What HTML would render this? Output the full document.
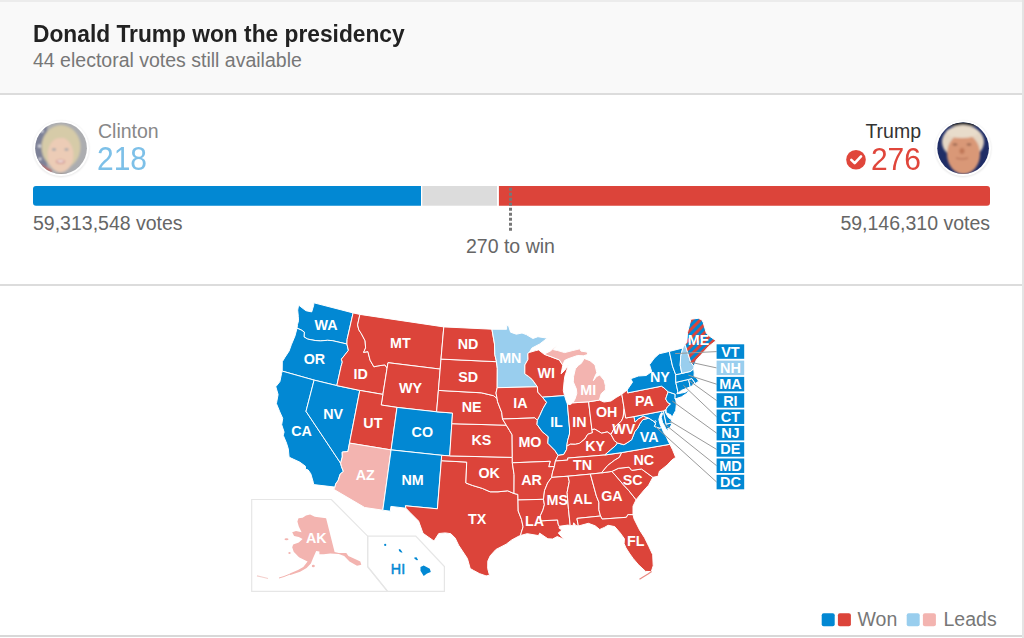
<!DOCTYPE html>
<html><head><meta charset="utf-8">
<style>
html,body{margin:0;padding:0;background:#fff;width:1024px;height:638px;overflow:hidden;font-family:"Liberation Sans",sans-serif;}
.t{position:absolute;white-space:nowrap;line-height:1;}
</style></head><body>
<div style="position:absolute;left:0;top:0;width:1022px;height:93px;background:#f9f9f9"></div>
<div style="position:absolute;left:0;top:0;width:1022px;height:2px;background:#ececec"></div>
<div style="position:absolute;left:0;top:93px;width:1022px;height:2px;background:#dcdcdc"></div>
<div style="position:absolute;left:1022px;top:0;width:2px;height:638px;background:#e4e4e4"></div>
<div style="position:absolute;left:0;top:284px;width:1022px;height:2px;background:#dcdcdc"></div>
<div style="position:absolute;left:0;top:635px;width:1022px;height:2px;background:#d8d8d8"></div>
<div class="t" style="left:33px;top:23.1px;font-size:22.75px;font-weight:bold;color:#222;transform:scaleY(1.09);transform-origin:0 19.26px">Donald Trump won the presidency</div>
<div class="t" style="left:33px;top:50.7px;font-size:19.5px;color:#777">44 electoral votes still available</div>

<!-- candidates -->
<div class="t" style="left:98px;top:122px;font-size:19.5px;color:#888">Clinton</div>
<div class="t" style="left:97px;top:144.6px;font-size:30px;color:#7dc0e8;transform:scaleY(1.08);transform-origin:0 25.4px">218</div>
<div class="t" style="right:103px;top:122px;font-size:19.5px;color:#333;text-align:right">Trump</div>
<div class="t" style="right:103px;top:144.9px;font-size:30px;color:#e0463b;text-align:right;transform:scaleY(1.06);transform-origin:0 25.4px">276</div>
<div class="t" style="left:33px;top:213.5px;font-size:19.5px;color:#666">59,313,548 votes</div>
<div class="t" style="right:34px;top:213.5px;font-size:19.5px;color:#666;text-align:right">59,146,310 votes</div>
<div class="t" style="left:466px;top:237.3px;font-size:19.5px;color:#666">270 to win</div>

<svg style="position:absolute;left:0;top:0" width="1024" height="638" viewBox="0 0 1024 638">
<defs>
<pattern id="stripes" patternUnits="userSpaceOnUse" width="6" height="6" patternTransform="rotate(45)">
<rect width="6" height="6" fill="#0288d3"/><rect width="2.9" height="6" fill="#dc443a"/>
</pattern>
<clipPath id="c1"><circle cx="61.1" cy="148.2" r="25.8"/></clipPath>
<clipPath id="c2"><circle cx="963.1" cy="148.2" r="25.8"/></clipPath>
<filter id="bl"><feGaussianBlur stdDeviation="0.9"/></filter>
<filter id="sh" x="-20%" y="-20%" width="140%" height="140%"><feGaussianBlur stdDeviation="1"/></filter>
</defs>
<!-- bar -->
<path d="M36,186H421V205.7H36A3,3 0 0 1 33,202.7V189A3,3 0 0 1 36,186Z" fill="#0288d3"/>
<rect x="422.3" y="186" width="74.7" height="19.7" fill="#dcdcdc"/>
<path d="M498.9,186H987A3,3 0 0 1 990,189V202.7A3,3 0 0 1 987,205.7H498.9Z" fill="#dc443a"/>
<line x1="510.5" y1="187.8" x2="510.5" y2="231" stroke="#777" stroke-width="3" stroke-dasharray="3 2"/>
<!-- avatars -->
<circle cx="61.1" cy="148.9" r="28" fill="#000" opacity="0.10" filter="url(#sh)"/>
<circle cx="61.1" cy="148.2" r="27.8" fill="#fff"/>
<g clip-path="url(#c1)">
<rect x="30" y="118" width="62" height="62" fill="#acadb0"/>
<g filter="url(#bl)">
<path d="M30,118H47V180H30Z" fill="#7d8197"/>
<path d="M38,163L52,170L50,180L36,180Z" fill="#b56d6d"/>
<circle cx="42" cy="131" r="1.5" fill="#e8e8ee"/><circle cx="39.5" cy="146" r="1.5" fill="#e8e8ee"/><circle cx="40" cy="159" r="1.3" fill="#e8e8ee"/>
<ellipse cx="61" cy="147" rx="19.5" ry="22" fill="#d6cba8"/>
<ellipse cx="60.5" cy="155" rx="13" ry="17.5" fill="#ecccb6"/>
<path d="M47,143Q50,132 61,133Q72,133 75,143Q68,137 61,138Q53,138 47,143Z" fill="#d6cba8"/>
<ellipse cx="54" cy="149.5" rx="2" ry="1" fill="#8c9aa6"/><ellipse cx="66.5" cy="149.5" rx="2" ry="1" fill="#8c9aa6"/>
<ellipse cx="60.5" cy="161.5" rx="4.5" ry="2" fill="#c98080"/><ellipse cx="60.5" cy="161.3" rx="3.5" ry="1.1" fill="#f5eeea"/>
<path d="M46,174L75,174L78,180L43,180Z" fill="#4a4a52"/>
</g>
</g>
<circle cx="963.1" cy="148.9" r="28" fill="#000" opacity="0.10" filter="url(#sh)"/>
<circle cx="963.1" cy="148.2" r="27.8" fill="#fff"/>
<g clip-path="url(#c2)">
<rect x="930" y="118" width="66" height="62" fill="#1f2d66"/>
<g filter="url(#bl)">
<rect x="930" y="118" width="66" height="8" fill="#111522"/>
<ellipse cx="963" cy="142" rx="21" ry="17" fill="#e4d6c4"/>
<ellipse cx="963.5" cy="154" rx="16.5" ry="20" fill="#d99877"/>
<ellipse cx="962" cy="132.5" rx="16" ry="5.5" fill="#e8dccb"/>
<ellipse cx="955" cy="144.5" rx="2.5" ry="1" fill="#8a5a48"/><ellipse cx="969" cy="144.5" rx="2.5" ry="1" fill="#8a5a48"/>
<ellipse cx="962" cy="151" rx="2.5" ry="3" fill="#c07858"/>
<path d="M956,158Q962,160 968,158" stroke="#b06a52" stroke-width="1.2" fill="none"/>
</g>
</g>
<!-- check -->
<circle cx="856" cy="159.8" r="9.8" fill="#e0463b"/>
<path d="M851.3,159.8L854.7,163.2L861,156.4" fill="none" stroke="#fff" stroke-width="2.6" stroke-linecap="round" stroke-linejoin="round"/>

<!-- insets -->
<g fill="none" stroke="#e6e6e6" stroke-width="1.2">
<path d="M251.7,499.5H331.4L367.7,536.2V566.7L387.6,591.3H251.7Z"/>
<path d="M367.7,536.2H415.8L444.4,566.5V591.4H387.6L367.7,566.7Z"/>
</g>
<path d="M310.1,514.4L314.8,516.8L326.1,518.2L334.6,552.0L338.8,552.9L346.3,552.9L348.4,556.1L355,559L360.3,561.5L361.3,564.7L357,565.8L349.5,561.5L344.2,556.1L338.8,554.0L330.2,553.6L323.7,554.2L319.4,554.2L319.4,551.5L316.2,551.0L315.1,553.5L313,558.3L310.9,563.6L306.6,567.9L300.1,571.7L290.4,574.9L288.3,574.4L290.4,573.3L298,570L303.3,566.9L307.6,561.5L305.5,560.4L299,557.2L293.7,551.8L292.2,547.3L293.2,544.5L298.8,542.6L302.6,538.9L298.8,537L294.1,536L292.2,532.3L296,531L301.6,532.3L298.8,526.6L297.4,521.5L298.5,518.3L302.6,517.7L306,515.5Z" fill="#f3b4b0"/>
<path d="M289,574.5L284,576.5L279,578" stroke="#f3b4b0" stroke-width="1" fill="none"/>
<path d="M257,575.8L262,577L268,578.5" stroke="#f4d0cd" stroke-width="1.2" fill="none"/>
<ellipse cx="286.5" cy="539.2" rx="2" ry="1" fill="#f3b4b0"/>
<ellipse cx="289.5" cy="553" rx="1.2" ry="1" fill="#f3b4b0"/>
<ellipse cx="313.3" cy="566" rx="1.5" ry="1.2" fill="#f3b4b0"/>
<path d="M398.8,549.1L400.5,549.5L402.6,552.4L401,552.6L399,551ZM414.3,557.6L416.5,557.2L418.1,559.9L416.8,560.3L414.5,558.8ZM420.5,567L423.7,565.5L429.8,568.8L430.8,572.1L427,573.5L423.7,575.9L420.5,570.7Z" fill="#0288d3"/>
<circle cx="385.2" cy="544.9" r="1.1" fill="#0288d3"/>
<g stroke="#fff" stroke-width="1" stroke-linejoin="round">
<path d="M297.0,328.2L297.5,324.4L298.5,320.8L298.3,316.4L297.7,310.1L298.6,305.1L305.9,310.7L311.7,311.9L313.7,305.2L313.9,302.8L353.1,312.9L347.1,339.4L346.9,344.0L332.1,340.6L327.4,340.3L320.4,340.9L315.1,340.5L307.7,339.1L304.0,336.9L304.3,332.0L301.1,329.9L297.0,328.2Z" fill="#0288d3"/>
<path d="M297.0,328.2L301.1,329.9L304.3,332.0L304.0,336.9L307.7,339.1L315.1,340.5L320.4,340.9L327.4,340.3L332.1,340.6L346.9,344.0L348.4,350.3L345.1,354.6L341.4,359.2L342.3,362.1L341.0,366.5L336.8,385.6L314.1,380.1L282.2,371.1L282.3,361.7L284.9,357.4L289.1,351.0L291.3,344.8L295.0,335.9L297.0,328.2Z" fill="#0288d3"/>
<path d="M282.2,371.1L314.1,380.1L306.0,411.3L340.6,463.2L341.5,466.7L343.4,471.4L340.2,474.1L338.2,480.3L335.6,484.1L335.0,487.1L313.7,484.6L313.4,482.7L310.8,473.8L308.1,469.9L305.6,469.3L305.4,466.2L299.7,462.1L289.9,457.6L289.0,456.3L288.3,448.9L286.5,443.1L283.2,435.2L284.1,432.1L281.7,424.7L282.7,418.3L279.8,411.9L276.4,403.6L278.1,394.5L275.8,386.7L279.9,381.6L281.5,373.7L282.2,371.1Z" fill="#0288d3"/>
<path d="M314.1,380.1L336.8,385.6L359.8,390.4L349.5,443.1L347.9,451.5L342.2,452.1L342.3,457.0L340.6,463.2L306.0,411.3L314.1,380.1Z" fill="#0288d3"/>
<path d="M353.1,312.9L359.9,314.4L357.6,324.9L358.8,329.8L361.3,333.6L365.1,340.8L365.6,347.9L363.6,352.4L367.9,351.6L370.1,360.2L373.9,366.8L377.9,365.9L384.9,364.9L387.1,368.0L382.9,394.4L359.8,390.4L336.8,385.6L341.0,366.5L342.3,362.1L341.4,359.2L345.1,354.6L348.4,350.3L346.9,344.0L347.1,339.4L353.1,312.9Z" fill="#dc443a"/>
<path d="M359.9,314.4L443.8,326.9L441.0,359.1L440.2,369.1L388.0,362.7L387.1,368.0L384.9,364.9L377.9,365.9L373.9,366.8L370.1,360.2L367.9,351.6L363.6,352.4L365.6,347.9L365.1,340.8L361.3,333.6L358.8,329.8L357.6,324.9L359.9,314.4Z" fill="#dc443a"/>
<path d="M387.1,368.0L388.0,362.7L440.2,369.1L438.4,390.4L436.6,411.8L397.0,407.4L381.2,405.0L382.9,394.4L387.1,368.0Z" fill="#dc443a"/>
<path d="M359.8,390.4L382.9,394.4L381.2,405.0L397.0,407.4L391.1,449.9L349.5,443.1L359.8,390.4Z" fill="#dc443a"/>
<path d="M397.0,407.4L436.6,411.8L452.5,413.0L451.8,423.7L449.7,455.9L441.7,455.3L391.1,449.9L397.0,407.4Z" fill="#0288d3"/>
<path d="M349.5,443.1L391.1,449.9L382.8,510.2L364.7,507.5L333.7,489.3L335.0,487.1L335.6,484.1L338.2,480.3L340.2,474.1L343.4,471.4L341.5,466.7L340.6,463.2L342.3,457.0L342.2,452.1L347.9,451.5L349.5,443.1Z" fill="#f3b4b0"/>
<path d="M391.1,449.9L441.7,455.3L441.3,460.7L437.4,508.8L405.4,505.8L405.9,508.2L390.9,506.4L390.3,511.2L382.8,510.2L391.1,449.9Z" fill="#0288d3"/>
<path d="M441.3,460.7L466.7,462.1L465.9,483.0L472.7,485.5L482.3,488.4L490.1,491.8L498.0,491.8L507.7,490.8L514.0,493.5L517.9,494.4L518.0,500.0L518.2,511.0L521.5,519.4L523.1,526.9L521.4,532.2L520.5,535.5L519.1,536.0L511.8,539.9L506.2,544.2L495.9,549.5L490.2,555.8L487.8,561.1L487.7,568.5L489.5,575.3L486.1,575.9L479.4,573.6L473.7,570.5L470.2,568.5L467.4,558.5L458.6,545.2L455.2,538.1L450.8,533.7L445.3,532.9L438.8,533.5L434.0,541.0L428.3,537.0L423.0,533.3L418.6,521.1L410.3,512.8L405.9,508.2L405.4,505.8L437.4,508.8L441.3,460.7Z" fill="#dc443a"/>
<path d="M441.7,455.3L449.7,455.9L512.3,457.4L512.3,462.8L514.1,474.7L514.0,493.5L507.7,490.8L498.0,491.8L490.1,491.8L482.3,488.4L472.7,485.5L465.9,483.0L466.7,462.1L441.3,460.7L441.7,455.3Z" fill="#dc443a"/>
<path d="M451.8,423.7L506.3,425.2L509.6,430.6L512.1,434.8L512.3,457.4L449.7,455.9L451.8,423.7Z" fill="#dc443a"/>
<path d="M438.4,390.4L481.3,392.8L489.0,394.6L493.6,395.7L497.1,398.5L497.5,401.6L500.0,408.1L501.7,412.3L502.5,419.0L506.3,425.2L451.8,423.7L452.5,413.0L436.6,411.8L438.4,390.4Z" fill="#dc443a"/>
<path d="M441.0,359.1L496.5,361.7L497.3,368.5L497.2,387.7L496.0,393.0L497.1,398.5L493.6,395.7L489.0,394.6L481.3,392.8L438.4,390.4L440.2,369.1L441.0,359.1Z" fill="#dc443a"/>
<path d="M443.8,326.9L491.9,329.2L494.5,344.0L494.8,354.6L496.5,361.7L441.0,359.1L443.8,326.9Z" fill="#dc443a"/>
<path d="M491.9,329.2L506.6,329.3L506.6,325.3L508.7,326.1L510.6,332.2L516.3,334.2L522.0,333.0L526.3,334.6L532.9,338.5L537.9,336.7L547.3,338.2L539.7,344.0L531.9,348.1L529.2,352.5L527.8,353.5L528.0,359.4L524.9,364.9L524.8,373.9L528.7,376.5L532.2,379.5L537.4,386.8L497.2,387.7L497.3,368.5L496.5,361.7L494.8,354.6L494.5,344.0L491.9,329.2Z" fill="#99ceee"/>
<path d="M497.2,387.7L537.4,386.8L537.8,392.1L542.4,397.2L546.6,402.3L543.0,408.5L539.8,415.6L537.4,420.3L534.8,417.9L502.5,419.0L501.7,412.3L500.0,408.1L497.5,401.6L497.1,398.5L496.0,393.0L497.2,387.7Z" fill="#dc443a"/>
<path d="M502.5,419.0L534.8,417.9L537.4,420.3L537.0,424.4L542.2,431.6L548.3,436.7L547.8,443.2L554.8,450.3L558.1,455.4L555.4,461.0L554.4,466.5L548.7,466.8L550.2,461.3L512.3,462.8L512.3,457.4L512.1,434.8L509.6,430.6L506.3,425.2L502.5,419.0Z" fill="#dc443a"/>
<path d="M512.3,462.8L550.2,461.3L548.7,466.8L554.4,466.5L552.6,471.9L551.6,477.4L547.6,483.0L544.5,490.7L543.5,499.3L518.0,500.0L517.9,494.4L514.0,493.5L514.1,474.7L512.3,462.8Z" fill="#dc443a"/>
<path d="M518.0,500.0L543.5,499.3L544.4,504.7L542.9,510.1L540.4,515.6L540.4,520.9L557.6,519.9L558.2,524.2L559.3,526.3L559.2,528.2L562.0,530.1L558.3,532.9L563.9,539.5L557.3,536.5L552.6,539.0L547.9,538.8L539.7,533.2L538.5,535.6L527.2,533.7L520.5,535.5L521.4,532.2L523.1,526.9L521.5,519.4L518.2,511.0L518.0,500.0Z" fill="#dc443a"/>
<path d="M529.2,352.5L535.7,350.6L538.6,349.9L544.1,354.2L553.0,357.5L559.3,359.9L562.8,365.2L561.1,373.9L564.6,370.4L568.3,365.3L566.3,371.9L564.8,376.3L564.1,381.7L563.3,390.4L564.5,395.6L542.4,397.2L537.8,392.1L537.4,386.8L532.2,379.5L528.7,376.5L524.8,373.9L524.9,364.9L528.0,359.4L527.8,353.5L529.2,352.5Z" fill="#dc443a"/>
<path d="M542.4,397.2L564.5,395.6L566.7,402.5L567.4,404.0L569.6,429.1L569.5,434.0L567.6,440.7L566.8,446.1L566.6,449.4L563.7,454.5L558.1,455.4L554.8,450.3L547.8,443.2L548.3,436.7L542.2,431.6L537.0,424.4L537.4,420.3L539.8,415.6L543.0,408.5L546.6,402.3L542.4,397.2Z" fill="#0288d3"/>
<path d="M567.4,404.0L570.1,404.6L572.9,402.8L588.6,401.8L591.9,429.5L592.5,432.7L587.7,434.3L584.9,439.0L579.5,443.3L575.4,444.3L570.4,444.2L566.8,446.1L567.6,440.7L569.5,434.0L569.6,429.1L567.4,404.0Z" fill="#dc443a"/>
<path d="M588.6,401.8L599.3,400.1L604.0,402.0L611.0,401.0L616.1,397.5L621.8,394.2L624.1,408.3L623.2,417.0L621.4,421.1L616.7,425.1L614.2,428.2L611.0,434.4L607.3,431.9L601.6,433.2L594.9,429.2L591.9,429.5L588.6,401.8Z" fill="#dc443a"/>
<path d="M544.1,354.2L550.5,350.9L557.0,345.0L553.5,349.7L557.6,350.5L564.6,352.6L572.8,350.5L579.8,348.8L581.0,351.1L586.9,352.0L588.0,354.4L583.4,355.8L577.5,355.5L568.1,358.8L564.6,360.5L562.8,365.2L559.3,359.9L553.0,357.5L544.1,354.2Z" fill="#f3b4b0"/>
<path d="M572.9,402.8L575.0,399.0L576.8,393.4L576.4,389.1L573.3,381.9L573.6,376.5L575.4,368.8L578.4,365.3L580.6,364.0L582.5,361.6L584.0,358.4L590.0,360.7L595.0,364.9L596.8,372.7L595.0,376.2L593.3,380.7L596.6,376.5L599.8,375.0L604.1,380.3L605.4,385.5L605.4,389.9L601.2,393.7L599.3,400.1L588.6,401.8L572.9,402.8Z" fill="#f3b4b0"/>
<path d="M558.1,455.4L563.7,454.5L566.6,449.4L566.8,446.1L570.4,444.2L575.4,444.3L579.5,443.3L584.9,439.0L587.7,434.3L592.5,432.7L591.9,429.5L594.9,429.2L601.6,433.2L607.3,431.9L611.0,434.4L614.4,440.7L617.5,443.0L615.2,446.0L610.6,449.9L604.7,455.0L567.6,458.1L567.8,460.1L555.4,461.0L558.1,455.4Z" fill="#dc443a"/>
<path d="M555.4,461.0L567.8,460.1L567.6,458.1L604.7,455.0L621.7,452.6L619.4,457.3L614.6,460.2L607.6,465.5L601.4,472.9L590.4,474.1L568.0,476.2L551.6,477.4L552.6,471.9L554.4,466.5L555.4,461.0Z" fill="#dc443a"/>
<path d="M551.6,477.4L568.0,476.2L569.3,481.5L567.1,492.4L568.5,509.5L570.2,525.4L567.7,525.1L559.3,526.3L558.2,524.2L557.6,519.9L540.4,520.9L540.4,515.6L542.9,510.1L544.4,504.7L543.5,499.3L544.5,490.7L547.6,483.0L551.6,477.4Z" fill="#dc443a"/>
<path d="M568.0,476.2L590.4,474.1L596.4,496.1L598.9,502.2L598.9,509.8L600.5,516.0L577.0,518.4L577.0,519.0L578.4,526.0L575.8,525.5L573.7,522.8L573.0,525.8L570.2,525.4L568.5,509.5L567.1,492.4L569.3,481.5L568.0,476.2Z" fill="#dc443a"/>
<path d="M590.4,474.1L601.4,472.9L611.9,471.4L617.0,477.2L623.5,484.9L628.8,490.6L636.1,499.8L633.0,506.2L633.0,514.7L627.9,514.6L626.4,517.3L602.1,519.1L600.5,516.0L598.9,509.8L598.9,502.2L596.4,496.1L590.4,474.1Z" fill="#dc443a"/>
<path d="M578.4,526.0L588.4,523.3L595.1,525.8L599.7,529.5L604.4,527.4L608.1,525.3L614.7,526.6L620.2,532.9L624.4,538.8L624.1,543.6L626.0,548.0L629.9,554.0L633.3,558.7L638.5,564.8L645.6,571.4L651.3,571.6L653.2,565.8L652.7,554.7L649.0,546.8L644.6,537.8L639.6,530.0L634.1,519.0L633.0,514.7L627.9,514.6L626.4,517.3L602.1,519.1L600.5,516.0L577.0,518.4L577.0,519.0L578.4,526.0Z" fill="#dc443a"/>
<path d="M611.9,471.4L618.4,468.3L629.1,467.2L631.8,470.4L641.5,469.0L652.9,477.3L648.6,485.2L643.3,491.0L636.1,499.8L628.8,490.6L623.5,484.9L617.0,477.2L611.9,471.4Z" fill="#dc443a"/>
<path d="M601.4,472.9L607.6,465.5L614.6,460.2L619.4,457.3L621.7,452.6L669.9,444.3L672.6,449.8L675.7,457.4L672.1,459.8L667.0,465.2L659.4,471.2L658.1,476.3L652.9,477.3L641.5,469.0L631.8,470.4L629.1,467.2L618.4,468.3L611.9,471.4L601.4,472.9Z" fill="#dc443a"/>
<path d="M604.7,455.0L610.6,449.9L615.2,446.0L617.5,443.0L623.9,444.7L627.0,442.9L631.6,439.8L634.9,431.4L637.5,428.4L640.0,423.5L643.0,419.5L648.9,418.2L650.7,419.4L653.8,421.3L655.7,423.8L654.4,426.4L657.6,427.6L660.1,428.2L661.3,427.0L663.6,432.3L666.4,437.1L668.1,440.9L669.9,444.3L621.7,452.6L604.7,455.0Z" fill="#0288d3"/>
<path d="M670.1,427.6L666.1,429.5L667.7,430.5L670.1,427.6Z" fill="#0288d3"/>
<path d="M611.0,434.4L614.4,440.7L617.5,443.0L623.9,444.7L627.0,442.9L631.6,439.8L634.9,431.4L637.5,428.4L640.0,423.5L643.0,419.5L648.9,418.2L643.3,416.2L638.4,418.8L635.0,422.1L634.0,416.6L625.7,418.0L624.1,408.3L623.2,417.0L621.4,421.1L616.7,425.1L614.2,428.2L611.0,434.4Z" fill="#dc443a"/>
<path d="M634.0,416.6L663.4,410.9L666.2,424.1L672.2,422.9L670.1,427.6L666.1,429.5L664.5,425.7L662.6,422.6L661.3,417.5L662.6,413.2L661.6,412.6L660.1,415.0L658.8,419.4L660.1,424.4L661.3,427.0L660.1,428.2L657.6,427.6L654.4,426.4L655.7,423.8L653.8,421.3L650.7,419.4L648.9,418.2L643.3,416.2L638.4,418.8L635.0,422.1L634.0,416.6Z" fill="#0288d3"/>
<path d="M663.4,410.9L666.1,409.4L665.1,411.3L665.9,413.3L668.5,417.7L671.0,419.3L672.2,422.9L666.2,424.1L663.4,410.9Z" fill="#0288d3"/>
<path d="M621.8,394.2L627.1,390.0L627.6,392.9L661.5,386.2L664.0,387.9L668.2,391.8L666.6,396.1L665.7,399.0L667.7,402.5L670.5,404.0L667.4,406.9L666.1,409.4L663.4,410.9L634.0,416.6L625.7,418.0L624.1,408.3L621.8,394.2Z" fill="#dc443a"/>
<path d="M668.2,391.8L675.2,394.2L675.1,397.4L675.0,398.6L675.8,400.0L676.4,403.8L675.7,410.5L671.8,417.7L670.9,414.9L666.2,412.7L666.1,409.4L667.4,406.9L670.5,404.0L667.7,402.5L665.7,399.0L666.6,396.1L668.2,391.8Z" fill="#0288d3"/>
<path d="M627.1,390.0L632.5,382.2L630.7,378.7L638.4,376.0L646.2,375.5L651.7,371.6L649.5,364.7L654.3,358.2L659.1,353.8L669.3,351.4L672.5,366.1L675.7,374.7L675.8,382.4L677.8,391.3L677.1,393.8L681.5,393.1L685.4,392.2L687.6,391.1L690.8,389.5L686.5,393.5L681.6,396.8L676.2,398.6L675.0,398.6L675.1,397.4L675.2,394.2L668.2,391.8L664.0,387.9L661.5,386.2L627.6,392.9L627.1,390.0Z" fill="#0288d3"/>
<path d="M675.8,382.4L688.6,379.4L690.2,386.8L686.1,388.5L681.6,390.3L677.1,393.8L677.8,391.3L675.8,382.4Z" fill="#0288d3"/>
<path d="M688.6,379.4L691.9,378.6L695.3,383.5L693.1,384.1L692.7,385.6L690.2,386.8L688.6,379.4Z" fill="#0288d3"/>
<path d="M675.7,374.7L681.8,373.4L690.6,371.4L693.7,368.7L694.2,373.0L694.0,376.2L697.0,378.5L698.6,381.2L695.3,383.5L691.9,378.6L688.6,379.4L675.8,382.4L675.7,374.7Z" fill="#0288d3"/>
<path d="M669.3,351.4L682.8,348.0L680.7,356.3L680.2,365.3L681.8,373.4L675.7,374.7L672.5,366.1L669.3,351.4Z" fill="#0288d3"/>
<path d="M682.8,348.0L685.0,344.2L690.8,362.5L694.0,366.3L693.7,368.7L690.6,371.4L681.8,373.4L680.2,365.3L680.7,356.3L682.8,348.0Z" fill="#99ceee"/>
<path d="M694.0,366.3L696.3,359.9L700.5,355.4L708.9,346.2L716.0,340.7L708.9,335.7L706.3,333.0L703.2,322.5L701.9,319.9L698.3,318.3L690.9,319.2L687.5,332.5L686.8,342.6L685.0,344.2L690.8,362.5L694.0,366.3Z" fill="url(#stripes)"/>
<path d="M655.0,420.6L656.3,421.5L655.4,422.7L654.5,421.4Z" fill="#0288d3"/>
<path d="M651.6,571.5L647.6,574.3L643.1,577.1L639.5,579.3" fill="none" stroke="#e98a82" stroke-width="1.2"/>
</g>
<!-- leader lines -->
<g stroke="#9a9a9a" stroke-width="1">
<line x1="675.1" y1="353.6" x2="716.6" y2="351.6"/>
<line x1="689.5" y1="362" x2="716.6" y2="367.9"/>
<line x1="688.3" y1="375.1" x2="716.6" y2="384.2"/>
<line x1="690.2" y1="381.4" x2="716.6" y2="400.5"/>
<line x1="683.3" y1="385.2" x2="716.6" y2="416.8"/>
<line x1="672.2" y1="401" x2="716.6" y2="433.1"/>
<line x1="669" y1="420.6" x2="716.6" y2="449.4"/>
<line x1="665.1" y1="424.5" x2="716.6" y2="465.7"/>
<line x1="655.7" y1="426.9" x2="716.6" y2="482.0"/>
</g>
<rect x="716.6" y="344.3" width="27.6" height="14.5" fill="#0288d3"/>
<rect x="716.6" y="360.6" width="27.6" height="14.5" fill="#99ceee"/>
<rect x="716.6" y="376.9" width="27.6" height="14.5" fill="#0288d3"/>
<rect x="716.6" y="393.2" width="27.6" height="14.5" fill="#0288d3"/>
<rect x="716.6" y="409.5" width="27.6" height="14.5" fill="#0288d3"/>
<rect x="716.6" y="425.9" width="27.6" height="14.5" fill="#0288d3"/>
<rect x="716.6" y="442.2" width="27.6" height="14.5" fill="#0288d3"/>
<rect x="716.6" y="458.5" width="27.6" height="14.5" fill="#0288d3"/>
<rect x="716.6" y="474.8" width="27.6" height="14.5" fill="#0288d3"/>
<g fill="#fff" font-family="Liberation Sans" font-weight="bold" font-size="14.5" text-anchor="middle">
<text transform="translate(730.4,356.5) scale(1,1.05)">VT</text>
<text transform="translate(730.4,372.8) scale(1,1.05)">NH</text>
<text transform="translate(730.4,389.2) scale(1,1.05)">MA</text>
<text transform="translate(730.4,405.5) scale(1,1.05)">RI</text>
<text transform="translate(730.4,421.8) scale(1,1.05)">CT</text>
<text transform="translate(730.4,438.1) scale(1,1.05)">NJ</text>
<text transform="translate(730.4,454.4) scale(1,1.05)">DE</text>
<text transform="translate(730.4,470.7) scale(1,1.05)">MD</text>
<text transform="translate(730.4,487.0) scale(1,1.05)">DC</text>
</g>
<g fill="#fff" font-family="Liberation Sans" font-weight="bold" font-size="14.3" text-anchor="middle">
<text transform="translate(326.0,329.7) scale(1,1.04)">WA</text>
<text transform="translate(314.4,363.9) scale(1,1.04)">OR</text>
<text transform="translate(400.3,347.6) scale(1,1.04)">MT</text>
<text transform="translate(360.6,378.6) scale(1,1.04)">ID</text>
<text transform="translate(410.5,393.3) scale(1,1.04)">WY</text>
<text transform="translate(468.1,348.9) scale(1,1.04)">ND</text>
<text transform="translate(468.1,381.5) scale(1,1.04)">SD</text>
<text transform="translate(471.6,412.0) scale(1,1.04)">NE</text>
<text transform="translate(510.3,362.5) scale(1,1.04)">MN</text>
<text transform="translate(546.3,377.8) scale(1,1.04)">WI</text>
<text transform="translate(588.3,394.7) scale(1,1.04)">MI</text>
<text transform="translate(520.4,408.0) scale(1,1.04)">IA</text>
<text transform="translate(556.5,426.7) scale(1,1.04)">IL</text>
<text transform="translate(579.5,426.7) scale(1,1.04)">IN</text>
<text transform="translate(606.6,416.7) scale(1,1.04)">OH</text>
<text transform="translate(333.1,419.4) scale(1,1.04)">NV</text>
<text transform="translate(301.6,435.6) scale(1,1.04)">CA</text>
<text transform="translate(372.9,427.5) scale(1,1.04)">UT</text>
<text transform="translate(422.3,437.3) scale(1,1.04)">CO</text>
<text transform="translate(365.3,479.8) scale(1,1.04)">AZ</text>
<text transform="translate(412.6,484.5) scale(1,1.04)">NM</text>
<text transform="translate(698.5,344.9) scale(1,1.04)">ME</text>
<text transform="translate(659.8,381.9) scale(1,1.04)">NY</text>
<text transform="translate(644.5,405.9) scale(1,1.04)">PA</text>
<text transform="translate(529.9,447.1) scale(1,1.04)">MO</text>
<text transform="translate(595.1,451.2) scale(1,1.04)">KY</text>
<text transform="translate(623.8,434.4) scale(1,1.04)">WV</text>
<text transform="translate(649.1,442.4) scale(1,1.04)">VA</text>
<text transform="translate(582.6,469.8) scale(1,1.04)">TN</text>
<text transform="translate(643.8,465.0) scale(1,1.04)">NC</text>
<text transform="translate(531.5,484.6) scale(1,1.04)">AR</text>
<text transform="translate(632.6,485.0) scale(1,1.04)">SC</text>
<text transform="translate(557.3,505.0) scale(1,1.04)">MS</text>
<text transform="translate(582.6,503.7) scale(1,1.04)">AL</text>
<text transform="translate(611.9,501.0) scale(1,1.04)">GA</text>
<text transform="translate(534.5,526.4) scale(1,1.04)">LA</text>
<text transform="translate(635.8,546.3) scale(1,1.04)">FL</text>
<text transform="translate(481.4,445.3) scale(1,1.04)">KS</text>
<text transform="translate(489.1,478.2) scale(1,1.04)">OK</text>
<text transform="translate(477.1,523.8) scale(1,1.04)">TX</text>
<text transform="translate(316.3,543.1) scale(1,1.04)">AK</text>
</g>
<text transform="translate(398,574) scale(1,1.04)" fill="#0288d3" stroke="#0288d3" stroke-width="0.45" font-family="Liberation Sans" font-size="14.3" text-anchor="middle">HI</text>
<!-- legend -->
<rect x="821.7" y="613.3" width="13" height="13" rx="2" fill="#0288d3"/>
<rect x="837.9" y="613.3" width="13" height="13" rx="2" fill="#dc443a"/>
<rect x="906.7" y="613.3" width="13" height="13" rx="2" fill="#99ceee"/>
<rect x="922.9" y="613.3" width="13" height="13" rx="2" fill="#f3b4b0"/>
<text x="857.5" y="626.4" fill="#777" font-family="Liberation Sans" font-size="19.5">Won</text>
<text x="943.5" y="626.4" fill="#777" font-family="Liberation Sans" font-size="19.5">Leads</text>
</svg>
</body></html>
